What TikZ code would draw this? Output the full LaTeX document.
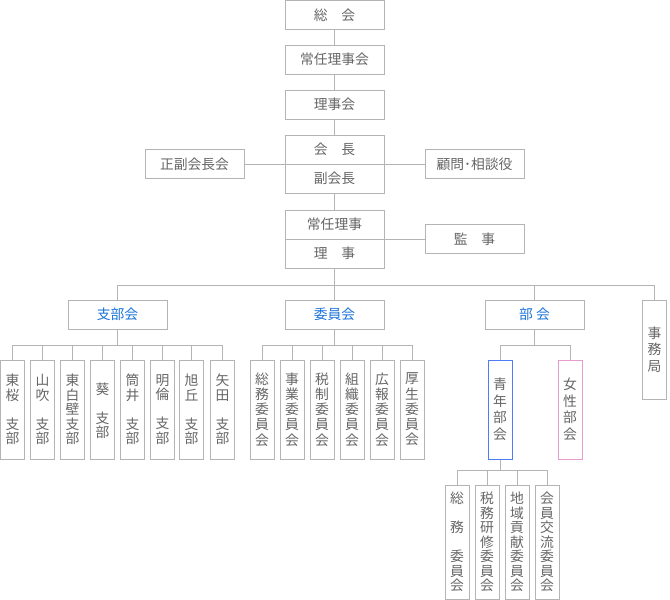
\documentclass[tikz,border=0pt]{standalone}
\usepackage{fontspec}
\setmainfont{Noto Sans CJK JP}
\definecolor{lg}{HTML}{B4B4B4}
\definecolor{tg}{HTML}{666666}
\definecolor{bt}{HTML}{1A73D9}
\definecolor{bb}{HTML}{4D7CF5}
\definecolor{pb}{HTML}{E89CCC}
\tikzset{
  box/.style={draw=lg, line width=1pt, fill=white, inner sep=0pt,
    minimum width=99, minimum height=29, text=tg,
    font=\fontsize{13.8}{16}\selectfont},
  bluetext/.style={text=bt},
  vbox/.style={box, minimum width=24, minimum height=99, align=center,
    font=\fontsize{13.8}{14.5}\selectfont},
  vboxwide/.style={vbox, font=\fontsize{13.8}{16.5}\selectfont},
  vboxmid/.style={vbox, font=\fontsize{13.8}{15.2}\selectfont},
  vboxtall/.style={vbox, minimum height=114, font=\fontsize{13.8}{14.5}\selectfont},
  conn/.style={draw=lg, line width=1pt}
}
\begin{document}
\begin{tikzpicture}[x=1pt,y=-1pt]
\useasboundingbox[fill=white] (0,0) rectangle (670,600);
% top column
\node[box] (soukai) at (334.5,15) {総　会};
\node[box] (jounin) at (334.5,59.5) {常任理事会};
\node[box] (rijikai) at (334.5,104.5) {理事会};
\node[box] (kaichou) at (334.5,149.5) {会　長};
\node[box] (fuku) at (334.5,178.5) {副会長};
\node[box] (seifuku) at (194.5,164) {正副会長会};
\node[box] (komon) at (474.5,164) {顧問･相談役};
\node[box] (jriji) at (334.5,224.5) {常任理事};
\node[box] (riji) at (334.5,253.5) {理　事};
\node[box] (kanji) at (474.5,239) {監　事};
% second level
\node[box,bluetext] (shibukai) at (117.5,314.5) {支部会};
\node[box,bluetext] (iinkai) at (334.5,314.5) {委員会};
\node[box,bluetext] (bukai) at (534.5,314.5) {部 会};
\node[vboxwide] (jimu) at (654.5,349.5) {事\\務\\局};
% branches
\node[vbox] (b1) at (12.5,409.5) {東\\桜\\　\\支\\部};
\node[vbox] (b2) at (42.5,409.5) {山\\吹\\　\\支\\部};
\node[vbox] (b3) at (72.5,409.5) {東\\白\\壁\\支\\部};
\node[vbox] (b4) at (102.5,409.5) {　\\葵\\　\\支\\部};
\node[vbox] (b5) at (132.5,409.5) {筒\\井\\　\\支\\部};
\node[vbox] (b6) at (162.5,409.5) {明\\倫\\　\\支\\部};
\node[vbox] (b7) at (191.5,409.5) {旭\\丘\\　\\支\\部};
\node[vbox] (b8) at (222.5,409.5) {矢\\田\\　\\支\\部};
% committees
\node[vboxmid] (c1) at (262,409.5) {総\\務\\委\\員\\会};
\node[vboxmid] (c2) at (292,409.5) {事\\業\\委\\員\\会};
\node[vboxmid] (c3) at (322,409.5) {税\\制\\委\\員\\会};
\node[vboxmid] (c4) at (352,409.5) {組\\織\\委\\員\\会};
\node[vboxmid] (c5) at (382,409.5) {広\\報\\委\\員\\会};
\node[vboxmid] (c6) at (412,409.5) {厚\\生\\委\\員\\会};
% bukai children
\node[vboxwide,draw=bb] (seinen) at (500,409.5) {青\\年\\部\\会};
\node[vboxwide,draw=pb] (josei) at (570,409.5) {女\\性\\部\\会};
% seinen children
\node[vboxtall] (s1) at (457,542) {総\\　\\務\\　\\委\\員\\会};
\node[vboxtall] (s2) at (487,542) {税\\務\\研\\修\\委\\員\\会};
\node[vboxtall] (s3) at (517,542) {地\\域\\貢\\献\\委\\員\\会};
\node[vboxtall] (s4) at (547,542) {会\\員\\交\\流\\委\\員\\会};
% bus coordinates
\coordinate (bus) at (0,285);
\coordinate (sb) at (0,345);
\coordinate (tb) at (0,470);
% connectors top
\draw[conn] (soukai.south) -- (jounin.north);
\draw[conn] (jounin.south) -- (rijikai.north);
\draw[conn] (rijikai.south) -- (kaichou.north);
\draw[conn] (fuku.south) -- (jriji.north);
\draw[conn] (seifuku.east) -- (seifuku.east -| kaichou.west);
\draw[conn] (komon.west -| kaichou.east) -- (komon.west);
\draw[conn] (kanji.west -| jriji.east) -- (kanji.west);
\draw[conn] (riji.south) -- (riji.south |- bus);
\draw[conn] (shibukai.north |- bus) -- (jimu.north |- bus);
\draw[conn] (shibukai.north |- bus) -- (shibukai.north);
\draw[conn] (iinkai.north |- bus) -- (iinkai.north);
\draw[conn] (bukai.north |- bus) -- (bukai.north);
\draw[conn] (jimu.north |- bus) -- (jimu.north);
% branch bus
\draw[conn] (shibukai.south) -- (shibukai.south |- sb);
\draw[conn] (b1.north |- sb) -- (b8.north |- sb);
\foreach \n in {b1,b2,b3,b4,b5,b6,b7,b8} {\draw[conn] (\n.north |- sb) -- (\n.north);}
% committee bus
\draw[conn] (iinkai.south) -- (iinkai.south |- sb);
\draw[conn] (c1.north |- sb) -- (c6.north |- sb);
\foreach \n in {c1,c2,c3,c4,c5,c6} {\draw[conn] (\n.north |- sb) -- (\n.north);}
% bukai bus
\draw[conn] (bukai.south) -- (bukai.south |- sb);
\draw[conn] (seinen.north |- sb) -- (josei.north |- sb);
\draw[conn] (seinen.north |- sb) -- (seinen.north);
\draw[conn] (josei.north |- sb) -- (josei.north);
% seinen bus
\draw[conn] (seinen.south) -- (seinen.south |- tb);
\draw[conn] (s1.north |- tb) -- (s4.north |- tb);
\foreach \n in {s1,s2,s3,s4} {\draw[conn] (\n.north |- tb) -- (\n.north);}
\end{tikzpicture}
\end{document}
